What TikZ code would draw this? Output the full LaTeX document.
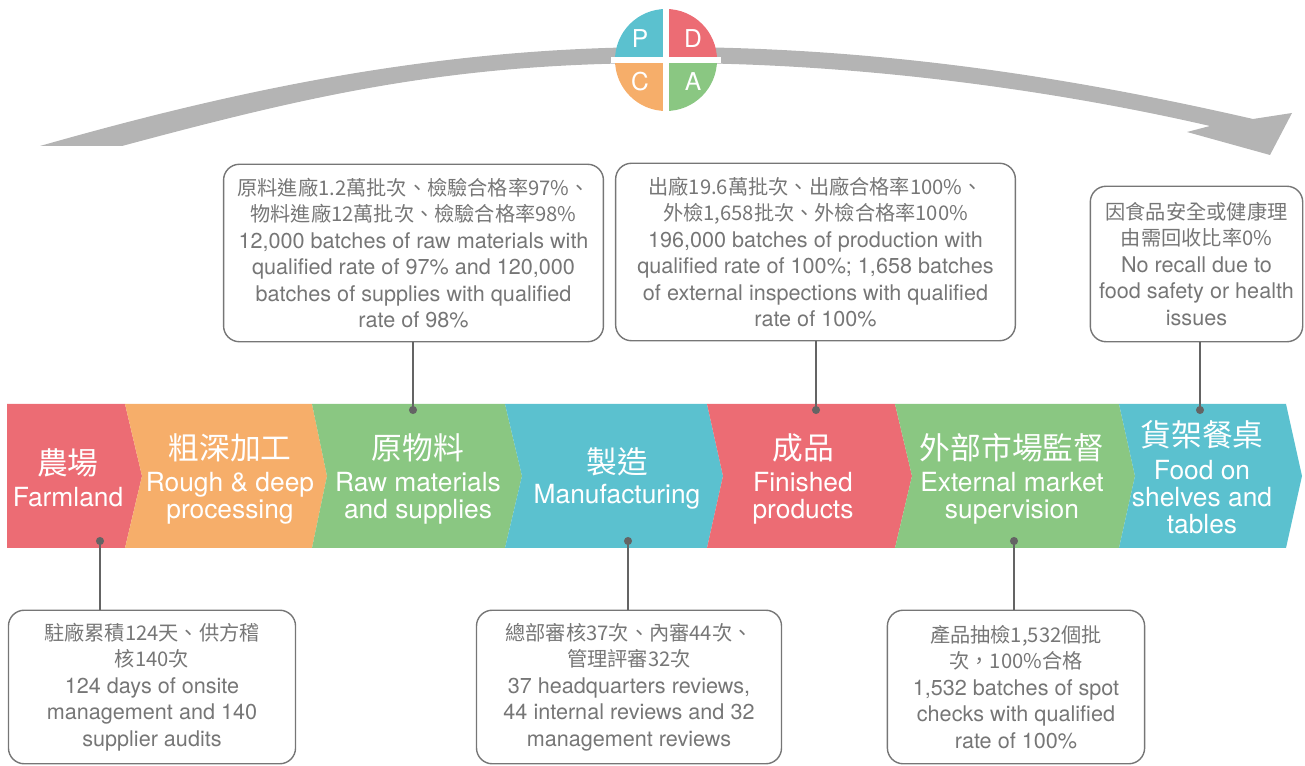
\documentclass[tikz,border=0pt]{standalone}
\usepackage{fontspec}
\setmainfont{TeX Gyre Heros}
\newfontfamily\cjk{Noto Sans CJK TC}
\newcommand{\zh}[1]{{\cjk\fontsize{11.5}{15.1}\selectfont #1}}

\definecolor{pdcared}{RGB}{236,108,116}
\definecolor{pdcaorange}{RGB}{246,174,106}
\definecolor{pdcagreen}{RGB}{138,199,130}
\definecolor{pdcablue}{RGB}{91,193,207}
\definecolor{arcgray}{RGB}{180,180,180}
\definecolor{boxgray}{RGB}{118,118,118}
\definecolor{linegray}{RGB}{100,100,100}

\begin{document}
\begin{tikzpicture}[x=0.02cm, y=-0.02cm,
    title/.style={text=white, font=\cjk\fontsize{17.5}{20}\selectfont},
    eng/.style={text=white, align=center, font=\fontsize{15}{15.4}\selectfont},
    infobox/.style={draw=boxgray, line width=0.8pt, rounded corners=9pt,
      text=boxgray, align=center, inner sep=0pt,
      font=\fontsize{12.3}{15.1}\selectfont},
    conn/.style={draw=linegray, line width=0.8pt},
    pdca/.style={text=white, font=\fontsize{14}{14}\selectfont}]
    \useasboundingbox (0,0) rectangle (1305,766) ;

    \fill[arcgray] (40,146) .. controls (240,89) and (440,47) .. (666,47)
      .. controls (900,47) and (1100,84) .. (1253,119) -- (1292,113)
      -- (1270,155) -- (1187,132) -- (1210,126)
      .. controls (1080,96) and (880,63) .. (666,63)
      .. controls (450,63) and (312,95) .. (122,146) -- cycle ;

    \begin{scope}[shift={(666,60)}, y=0.02cm]
      \fill[pdcablue] (0,0) -- (90:51) arc[start angle=90, end angle=180, radius=51] -- cycle ;
      \fill[pdcared] (0,0) -- (0:51) arc[start angle=0, end angle=90, radius=51] -- cycle ;
      \fill[pdcaorange] (0,0) -- (180:51) arc[start angle=180, end angle=270, radius=51] -- cycle ;
      \fill[pdcagreen] (0,0) -- (270:51) arc[start angle=270, end angle=360, radius=51] -- cycle ;
      \draw[white, line width=3.4pt] (-55,0) -- (55,0) (0,-55) -- (0,55) ;
      \node[pdca] (p) at (-26,21) {P} ;
      \node[pdca] (d) at (27,21) {D} ;
      \node[pdca] (c) at (-26,-22) {C} ;
      \node[pdca] (a) at (27,-22) {A} ;
    \end{scope}

    \foreach \la/\lp/\ra/\rp/\col in {7/7/125/142/pdcared,
      125/142/312/327/pdcaorange, 312/327/505/522/pdcagreen,
      505/522/707/723/pdcablue, 707/723/895/912/pdcared,
      895/912/1119/1135/pdcagreen, 1119/1135/1286/1302/pdcablue} {
      \fill[\col] (\la,404) -- (\ra,404) -- (\rp,476) -- (\ra,548)
        -- (\la,548) -- (\lp,476) -- cycle ;
    } ;

    \node[title] (t1) at (68,463) {農場} ;
    \node[eng] (e1) at (68,497) {Farmland} ;
    \node[title] (t2) at (230,448) {粗深加工} ;
    \node[eng] (e2) at (230,498.5) {Rough \& deep\\processing} ;
    \node[title] (t3) at (418,448) {原物料} ;
    \node[eng] (e3) at (418,498.5) {Raw materials\\and supplies} ;
    \node[title] (t4) at (617,462) {製造} ;
    \node[eng] (e4) at (617,497) {Manufacturing} ;
    \node[title] (t5) at (803,448) {成品} ;
    \node[eng] (e5) at (803,498.5) {Finished\\products} ;
    \node[title] (t6) at (1012,448) {外部市場監督} ;
    \node[eng] (e6) at (1012,498.5) {External market\\supervision} ;
    \node[title] (t7) at (1202,435) {貨架餐桌} ;
    \node[eng] (e7) at (1202,497.5) {Food on\\shelves and\\tables} ;

    \node[infobox, minimum width=163.4pt, minimum height=87.4pt] (b1) at (152,687)
    {\zh{駐廠累積124天、供方稽}\\\zh{核140次}\\124 days of onsite\\
      management and 140\\supplier audits} ;
    \node[infobox, minimum width=216.2pt, minimum height=101pt] (b2) at (413.5,253)
    {\zh{原料進廠1.2萬批次、檢驗合格率97\%、}\\\zh{物料進廠12萬批次、檢驗合格率98\%}\\
      12,000 batches of raw materials with\\qualified rate of 97\% and 120,000\\
      batches of supplies with qualified\\rate of 98\%} ;
    \node[infobox, minimum width=173.6pt, minimum height=87.4pt] (b3) at (629,687)
    {\zh{總部審核37次、內審44次、}\\\zh{管理評審32次}\\37 headquarters reviews,\\
      44 internal reviews and 32\\management reviews} ;
    \node[infobox, minimum width=227.5pt, minimum height=101pt] (b4) at (815.5,252)
    {\zh{出廠19.6萬批次、出廠合格率100\%、}\\\zh{外檢1,658批次、外檢合格率100\%}\\
      196,000 batches of production with\\qualified rate of 100\%; 1,658 batches\\
      of external inspections with qualified\\rate of 100\%} ;
    \node[infobox, minimum width=146.4pt, minimum height=87.4pt] (b5) at (1016,687)
    {\zh{產品抽檢1,532個批}\\\zh{次，100\%合格}\\1,532 batches of spot\\
      checks with qualified\\rate of 100\%} ;
    \node[infobox, minimum width=120.9pt, minimum height=88.5pt] (b6) at (1196.5,264)
    {\zh{因食品安全或健康理}\\\zh{由需回收比率0\%}\\No recall due to\\
      food safety or health\\issues} ;

    \coordinate (d1) at (100,541) ;
    \coordinate (d2) at (413,410) ;
    \coordinate (d3) at (628,541) ;
    \coordinate (d4) at (816,410) ;
    \coordinate (d5) at (1014,541) ;
    \coordinate (d6) at (1200,410) ;
    \draw[conn] (d1) -- (d1 |- b1.north) ;
    \draw[conn] (d2) -- (d2 |- b2.south) ;
    \draw[conn] (d3) -- (d3 |- b3.north) ;
    \draw[conn] (d4) -- (d4 |- b4.south) ;
    \draw[conn] (d5) -- (d5 |- b5.north) ;
    \draw[conn] (d6) -- (d6 |- b6.south) ;
    \foreach \d in {d1, d2, d3, d4, d5, d6} {
      \fill[linegray] (\d) circle (2.3pt) ;
    } ;
  \end{tikzpicture}
\end{document}
